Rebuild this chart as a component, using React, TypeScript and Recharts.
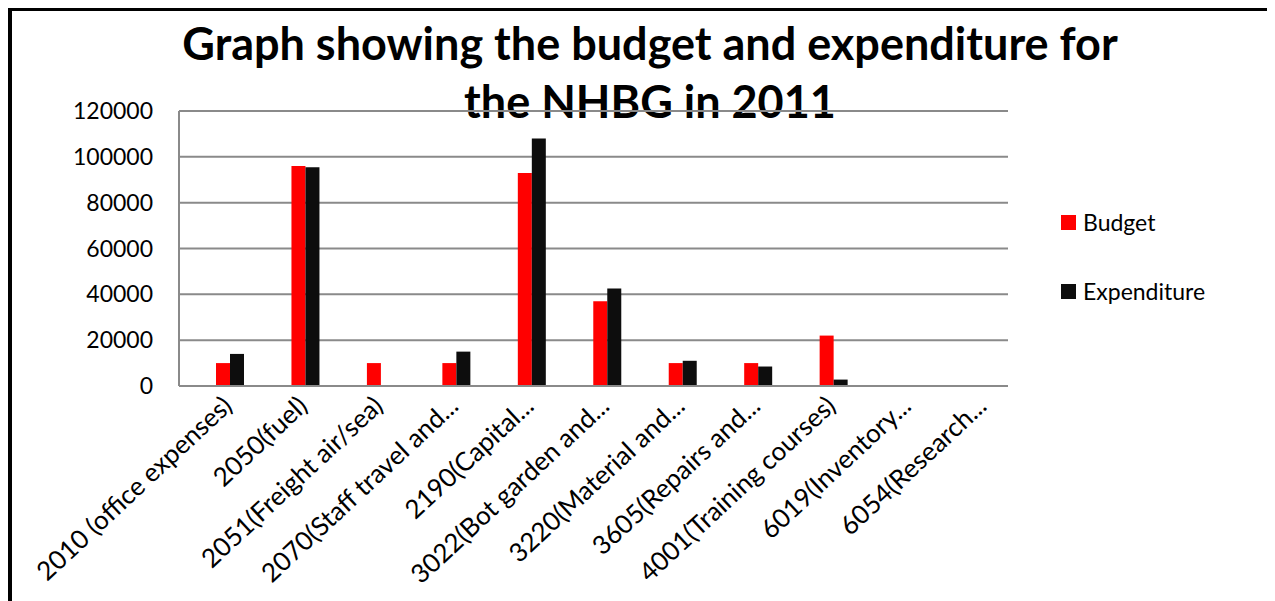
import React from 'react'
import { Bar, BarChart, CartesianGrid, Legend, XAxis, YAxis } from 'recharts'

const categories = [
  '2010 (office expenses)',
  '2050(fuel)',
  '2051(Freight air/sea)',
  '2070(Staff travel and...',
  '2190(Capital...',
  '3022(Bot garden and...',
  '3220(Material and...',
  '3605(Repairs and...',
  '4001(Training courses)',
  '6019(Inventory...',
  '6054(Research...',
]
const budget = [10000, 96000, 10000, 10000, 93000, 37000, 10000, 10000, 22000, 0, 0]
const expenditure = [14000, 95500, 0, 15000, 108000, 42500, 11000, 8500, 2800, 0, 0]
const yTicks = [0, 20000, 40000, 60000, 80000, 100000, 120000]

const data = categories.map((name, i) => ({
  name,
  Budget: budget[i],
  Expenditure: expenditure[i],
}))

const font = 'Lato, "Open Sans", sans-serif'

const XTick = ({ x, y, payload }: any) => (
  <g transform={`translate(${x + 4},${y + 20})`}>
    <text
      textAnchor="end"
      transform="rotate(-43)"
      fontSize={26}
      fontFamily={font}
      fill="#000"
    >
      {payload.value}
    </text>
  </g>
)

const LegendBox = ({ payload }: any) => (
  <div style={{ fontFamily: font, fontSize: 23, color: '#000' }}>
    {(payload || []).map((p: any) => (
      <div
        key={p.value}
        style={{ display: 'flex', alignItems: 'center', height: 30, marginBottom: 39 }}
      >
        <span style={{ width: 15, height: 15, background: p.color, marginRight: 7 }} />
        {p.value}
      </div>
    ))}
  </div>
)

export default function App() {
  return (
    <div
      style={{
        position: 'relative',
        width: 1267,
        height: 593,
        borderLeft: '4px solid #000',
        borderTop: '3px solid #000',
        boxSizing: 'border-box',
      }}
    >
      <div
        style={{
          position: 'absolute',
          left: 88,
          top: 3,
          width: 1100,
          textAlign: 'center',
          fontFamily: font,
          fontWeight: 700,
          fontSize: 45,
          lineHeight: '58px',
          color: '#000',
        }}
      >
        Graph showing the budget and expenditure for
        <br />
        the NHBG in 2011
      </div>
      <BarChart
        width={1263}
        height={590}
        data={data}
        margin={{ top: 100, right: 267, left: 0, bottom: 0 }}
        barGap={0}
        barSize={14}
      >
        <CartesianGrid vertical={false} stroke="#8a8a8a" strokeWidth={2} />
        <XAxis
          dataKey="name"
          height={215}
          interval={0}
          tickLine={false}
          tickSize={0}
          stroke="#8a8a8a"
          strokeWidth={2}
          padding={{ left: 13, right: -14 }}
          tick={<XTick />}
        />
        <YAxis
          width={167}
          domain={[0, 120000]}
          ticks={yTicks}
          tickLine={false}
          tickSize={0}
          tickMargin={26}
          stroke="#8a8a8a"
          strokeWidth={2}
          tick={{ fill: '#000', fontSize: 23, fontFamily: font }}
        />
        <Legend
          layout="vertical"
          align="center"
          verticalAlign="middle"
          content={<LegendBox />}
          wrapperStyle={{ left: 1049, top: 196, width: 200 }}
        />
        <Bar dataKey="Budget" fill="#ff0000" isAnimationActive={false} />
        <Bar dataKey="Expenditure" fill="#0d0d0d" isAnimationActive={false} />
      </BarChart>
    </div>
  )
}
